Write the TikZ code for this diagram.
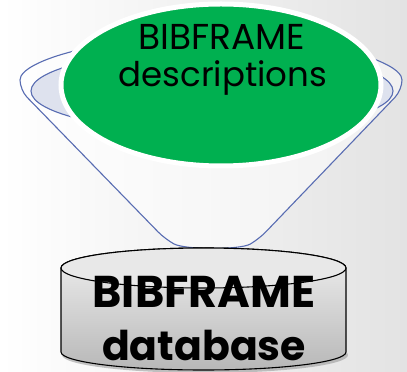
\documentclass[tikz,border=0pt]{standalone}
\usepackage{fontspec}
\setmainfont{Poppins}
\usetikzlibrary{shapes.geometric}

\definecolor{bfgreen}{RGB}{0,176,80}
\definecolor{rimblue}{RGB}{88,108,178}
\definecolor{rimfill}{RGB}{222,226,238}

\begin{document}
\begin{tikzpicture}[x=1pt,y=1pt,
    rim/.style={draw=rimblue,line width=1.1pt},
    cyl/.style={draw=black,line width=1.1pt},
    label/.style={anchor=base,inner sep=0pt}]
%    \draw[orange,thin] (0,0) grid[step=20] (407,372);
    \shade[left color=white,right color=black!11] (0,0) rectangle (407,372);
    \useasboundingbox (0,0) rectangle (407,372);

    % funnel
    \draw[rim,fill=white,fill opacity=0.5,rounded corners=10pt] (211,336) arc[start angle=90,end angle=180,x radius=191,y radius=54]
        -- (165,133) .. controls (185,122) and (240,122) .. (259,133) -- (402,282)
        arc[start angle=0,end angle=90,x radius=191,y radius=54];
    \draw[rim,fill=rimfill] (212,281) ellipse[x radius=181,y radius=41];

    % descriptions
    \node[ellipse,fill=bfgreen,draw=white,line width=5pt,minimum width=320pt,minimum height=162pt] (desc) at (221,287) {};
    \node[label,font=\fontsize{36}{36}\selectfont] (desc1) at (222,322) {BIBFRAME};
    \node[label,font=\fontsize{34}{34}\selectfont] (desc2) at (223,285) {descriptions};

    % database
    \fill[black!45,opacity=0.5] (205,17) ellipse[x radius=143,y radius=18];
    \draw[cyl,top color=black!6,bottom color=black!28] (61,104) -- (61,20) arc[start angle=180,end angle=360,x radius=142.5,y radius=18]
        -- (346,104) arc[start angle=0,end angle=180,x radius=142.5,y radius=20] -- cycle;
    \draw[cyl,fill=black!9] (203.5,104) ellipse[x radius=142.5,y radius=20];
    \node[label,font=\fontsize{44.5}{44.5}\selectfont\bfseries] (db1) at (204,64) {BIBFRAME};
    \node[label,font=\fontsize{41}{41}\selectfont\bfseries] (db2) at (204,11) {database};
\end{tikzpicture}
\end{document}
